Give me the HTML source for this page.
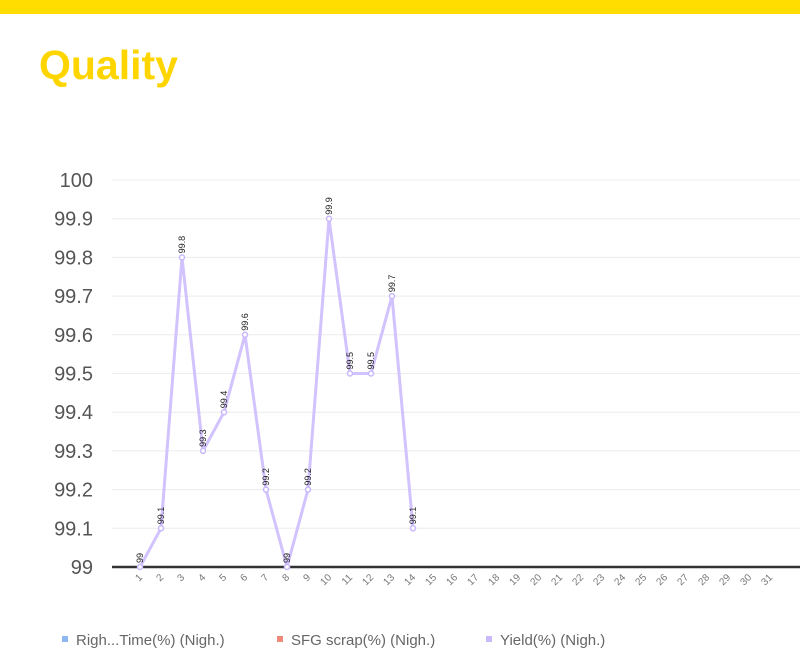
<!DOCTYPE html>
<html><head><meta charset="utf-8"><style>
body{margin:0;width:800px;height:668px;overflow:hidden;background:#fff;font-family:"Liberation Sans",sans-serif;}
</style></head><body>
<div style="position:absolute;left:0;top:0;width:800px;height:14px;background:#FFDD00"></div>
<div style="position:absolute;left:39px;top:42px;font-size:41px;font-weight:bold;color:#FFD500;">Quality</div>
<svg id="chart" width="800" height="668" style="position:absolute;left:0;top:0"></svg>
<script>
const categories=[1,2,3,4,5,6,7,8,9,10,11,12,13,14,15,16,17,18,19,20,21,22,23,24,25,26,27,28,29,30,31];
const yieldValues=[99,99.1,99.8,99.3,99.4,99.6,99.2,99,99.2,99.9,99.5,99.5,99.7,99.1];
const yTicks=[99,99.1,99.2,99.3,99.4,99.5,99.6,99.7,99.8,99.9,100];
const legendNames=["Righ...Time(%) (Nigh.)","SFG scrap(%) (Nigh.)","Yield(%) (Nigh.)"];
const legendColors=["#8fb8f0","#f08a78","#c9b8fb"];
const ns="http://www.w3.org/2000/svg";
const svg=document.getElementById('chart');
const x=c=>140+(c-1)*21;
const y=v=>567-(v-99)*387;
function mk(t,a){const e=document.createElementNS(ns,t);for(const k in a)e.setAttribute(k,a[k]);svg.appendChild(e);return e;}
yTicks.forEach(v=>{
  if(v>99){const g=mk('line',{x1:112,x2:800,y1:y(v),y2:y(v),stroke:'#ececec','stroke-width':1});
  
  }
  const t=mk('text',{x:93,y:y(v)+7,'text-anchor':'end','font-size':20,fill:'#555'});
  t.textContent=String(v);
  
  
});
const ax=mk('line',{x1:112,x2:800,y1:567,y2:567,stroke:'#333','stroke-width':2.5});


categories.forEach(c=>{
  const t=mk('text',{x:0,y:0,'text-anchor':'end','font-size':10,fill:'#777',transform:`translate(${x(c)+3},${578}) rotate(-45)`});
  t.textContent=String(c);
  
  
});
const pl=mk('polyline',{points:yieldValues.map((v,i)=>x(i+1)+','+y(v)).join(' '),fill:'none',stroke:'#d2c2fd','stroke-width':3,'stroke-linejoin':'round'});


yieldValues.forEach((v,i)=>{
  const p=mk('circle',{cx:x(i+1),cy:y(v),r:2.5,fill:'#fff',stroke:'#c9b8fb','stroke-width':1.5});
  
  
  const t=mk('text',{x:0,y:0,'font-size':9,fill:'#222',transform:`translate(${x(i+1)+3},${y(v)-4}) rotate(-90)`});
  t.textContent=String(v);
  
  
});
const lx=[62,277,486];
legendNames.forEach((n,i)=>{
  const r=mk('rect',{x:lx[i],y:636,width:6,height:6,fill:legendColors[i]});
  
  
  const t=mk('text',{x:lx[i]+14,y:645,'font-size':15,fill:'#666'});
  t.textContent=n;
  
  
});
</script>
</body></html>
